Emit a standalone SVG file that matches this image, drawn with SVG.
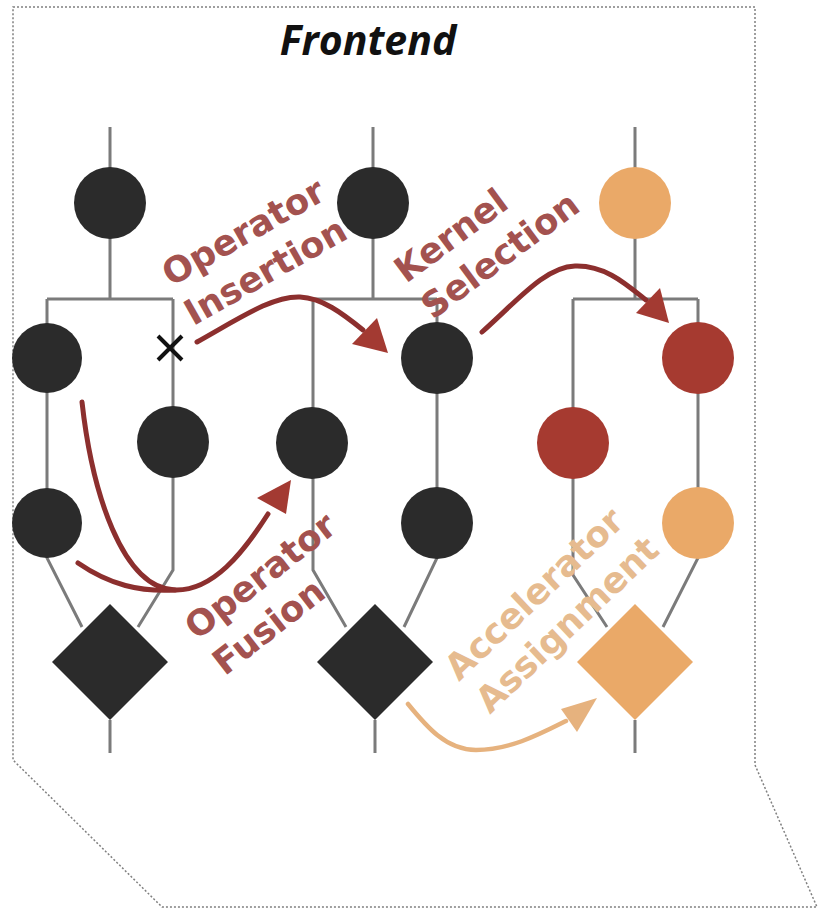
<svg xmlns="http://www.w3.org/2000/svg" width="819" height="911" viewBox="0 0 819 911">
  <style>
    .frame { fill: none; stroke: #808080; stroke-width: 1.5; stroke-dasharray: 2 2; }
    .wire { fill: none; stroke: #7b7b7b; stroke-width: 3; }
    .dark { fill: #2b2b2b; }
    .red { fill: #a63a30; }
    .peach { fill: #eaa968; }
    .title { font-family: "Open Sans", "DejaVu Sans", sans-serif; font-weight: bold; font-style: italic; font-size: 41px; fill: #111; }
    .lbl { font-family: "DejaVu Sans", "Verdana", sans-serif; font-weight: bold; font-size: 35.5px; }
    .lbl-red { fill: #a3524f; }
    .lbl-peach { fill: #e6bb8f; }
    .flow { fill: none; stroke: #8c2f2e; stroke-width: 5; stroke-linecap: round; }
    .flow-head { fill: #a33a32; }
    .acc { fill: none; stroke: #e6b27e; stroke-width: 4.5; stroke-linecap: round; }
    .acc-head { fill: #e6b27e; }
  </style>

  <!-- dotted outline of the frontend stage -->
  <path class="frame" d="M13,7 L755,7 L755,765 L817,907 L162,907 L13,760 Z"/>
  <text class="title" x="368" y="55" text-anchor="middle">Frontend</text>

  <!-- graph edges -->
  <g id="connectors">
    <!-- left graph -->
    <path class="wire" d="M110,127 V299 M47,299 H173 M47,299 V558 L82,627 M173,299 V570 L138,627 M110,720 V753"/>
    <!-- middle graph -->
    <path class="wire" d="M373,127 V299 M313,299 H437 M313,299 V570 L346,627 M437,299 V558 L404,627 M375,720 V753"/>
    <!-- right graph -->
    <path class="wire" d="M635,127 V299 M573,299 H698 M573,299 V575 L607,627 M698,299 V558 L663,627 M635,720 V753"/>
    <!-- removed edge marker -->
    <path d="M158,336 L182,360 M182,336 L158,360" stroke="#111" stroke-width="4" fill="none"/>
  </g>

  <!-- left graph nodes -->
  <g id="n-l-top"><circle class="dark" cx="110" cy="203" r="36"/></g>
  <g id="n-l-a1"><circle class="dark" cx="47" cy="358" r="35"/></g>
  <g id="n-l-a2"><circle class="dark" cx="47" cy="523" r="35"/></g>
  <g id="n-l-b1"><circle class="dark" cx="173" cy="442" r="36"/></g>
  <g id="n-l-out"><rect class="dark" x="69" y="621" width="82" height="82" transform="rotate(45 110 662)"/></g>

  <!-- middle graph nodes -->
  <g id="n-m-top"><circle class="dark" cx="373" cy="203" r="36"/></g>
  <g id="n-m-a1"><circle class="dark" cx="312" cy="443" r="36"/></g>
  <g id="n-m-b1"><circle class="dark" cx="437" cy="358" r="36"/></g>
  <g id="n-m-b2"><circle class="dark" cx="437" cy="523" r="36"/></g>
  <g id="n-m-out"><rect class="dark" x="334" y="621" width="82" height="82" transform="rotate(45 375 662)"/></g>

  <!-- right graph nodes -->
  <g id="n-r-top"><circle class="peach" cx="635" cy="203" r="36"/></g>
  <g id="n-r-a1"><circle class="red" cx="573" cy="443" r="36"/></g>
  <g id="n-r-b1"><circle class="red" cx="698" cy="358" r="36"/></g>
  <g id="n-r-b2"><circle class="peach" cx="698" cy="523" r="36"/></g>
  <g id="n-r-out"><rect class="peach" x="594" y="621" width="82" height="82" transform="rotate(45 635 662)"/></g>

  <!-- transformation arrows -->
  <g id="arrows">
    <!-- operator insertion -->
    <path class="flow" d="M197,342 C240,318 272,296 300,297 C322,298 342,313 363,330"/>
    <polygon class="flow-head" points="388,353 352,344 377,318"/>
    <!-- kernel selection -->
    <path class="flow" d="M482,332 C518,300 545,267 575,266 C605,265 626,284 646,300"/>
    <polygon class="flow-head" points="669,323 636,313 660,288"/>
    <!-- operator fusion -->
    <path class="flow" d="M82,402 C92,492 122,588 175,590 C213,591 243,553 268,514"/>
    <path class="flow" d="M78,563 C110,585 140,592 175,590"/>
    <polygon class="flow-head" points="291,480 286,514 257,498"/>
    <!-- accelerator assignment -->
    <path class="acc" d="M408,704 C426,726 446,750 476,750 C510,750 540,734 566,721"/>
    <polygon class="acc-head" points="597,698 577,732 561,709"/>
  </g>

  <!-- pass labels -->
  <g id="label-insertion" class="lbl lbl-red" transform="translate(171,287) rotate(-29.5)">
    <text x="0" y="0">Operator</text>
    <text x="0" y="45">Insertion</text>
  </g>
  <g id="label-kernel" class="lbl lbl-red" transform="translate(406,284) rotate(-36.5)">
    <text x="0" y="0">Kernel</text>
    <text x="0" y="45">Selection</text>
  </g>
  <g id="label-fusion" class="lbl lbl-red" transform="translate(197,641) rotate(-38)">
    <text x="0" y="0">Operator</text>
    <text x="0" y="45">Fusion</text>
  </g>
  <g id="label-accel" class="lbl lbl-peach" transform="translate(459,682) rotate(-43.5)">
    <text x="0" y="0">Accelerator</text>
    <text x="0" y="45">Assignment</text>
  </g>
</svg>
